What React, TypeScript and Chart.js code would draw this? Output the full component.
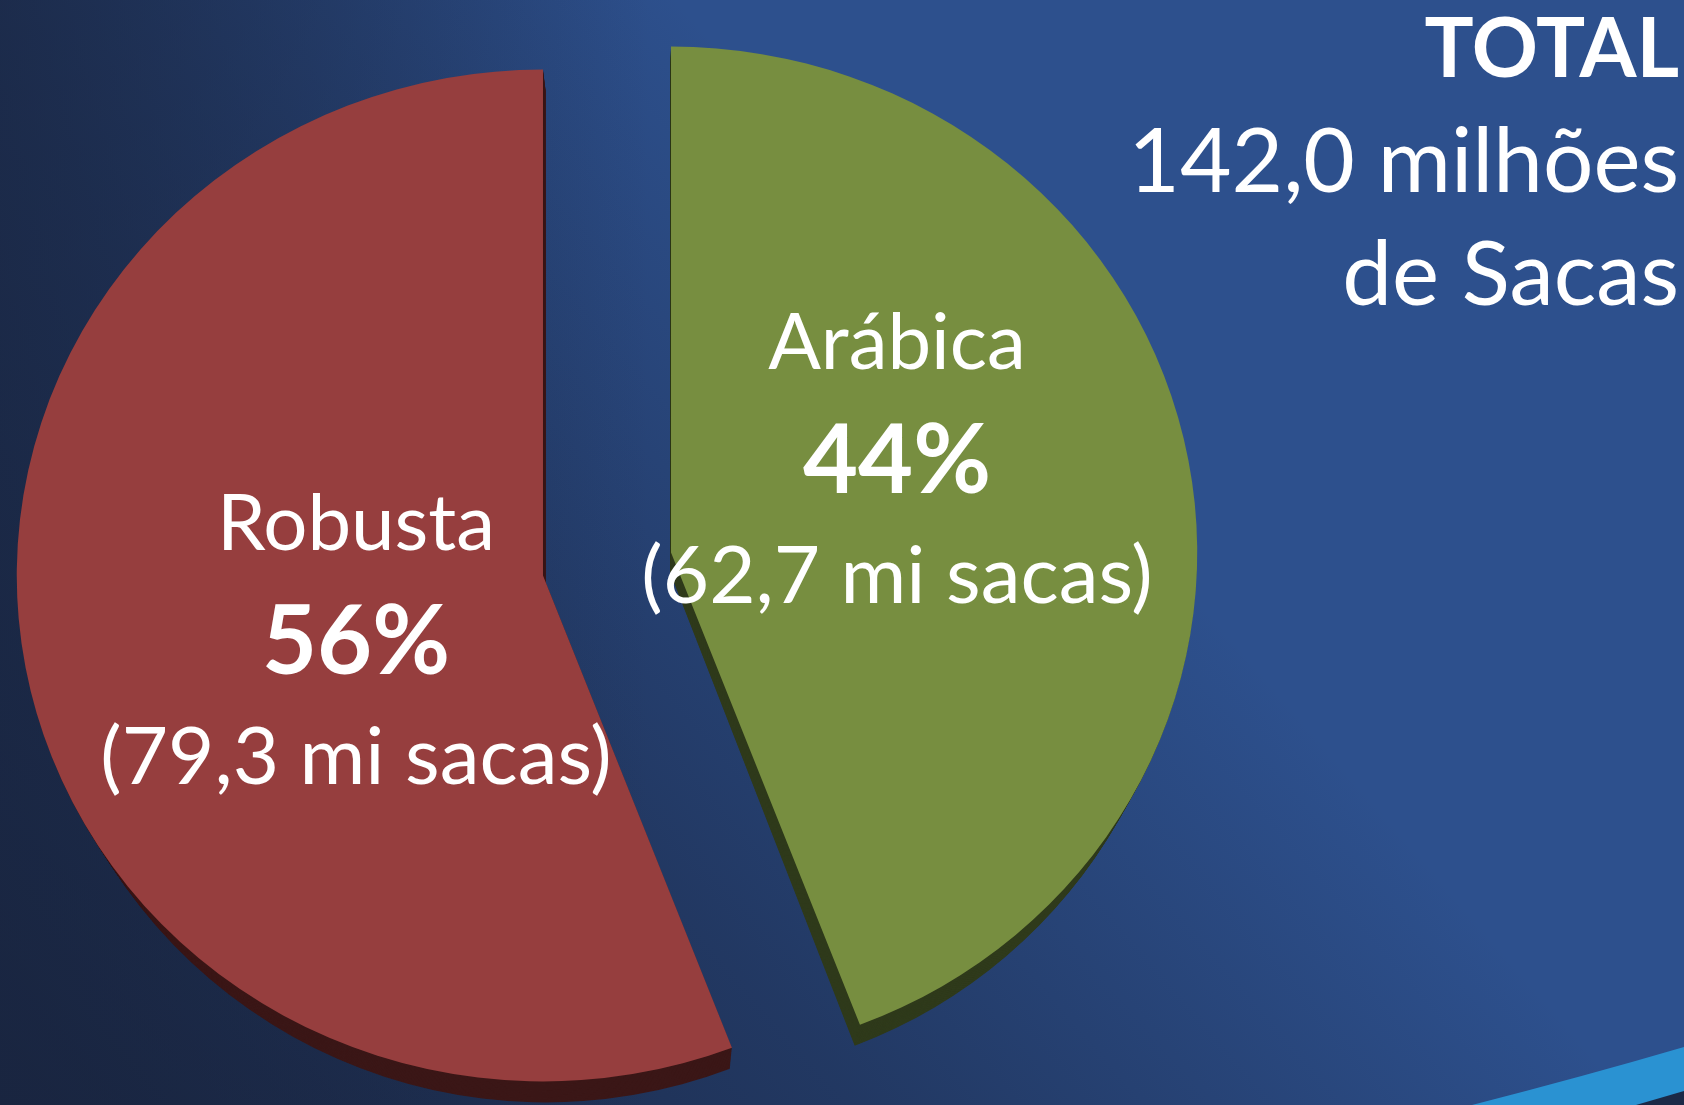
import React, { useEffect, useRef } from 'react';
import { Chart, registerables } from 'chart.js';

Chart.register(...registerables);

// ---- data ----
const categories: string[] = ['Arábica', 'Robusta'];
const volumes: number[] = [62.7, 79.3]; // milhões de sacas
const faceColors: string[] = ['#778e40', '#963e3e'];
const sideColors: string[] = ['#2f3a1b', '#3b1717'];
const totalHeading = 'TOTAL';
const totalUnit = 'milhões';
const totalTail = 'de Sacas';
const sliceUnit = 'mi sacas';

// ---- layout / style ----
const W = 1684;
const H = 1105;
const CENTER_X = 607;
const CENTER_Y = 564;
const RADIUS = 506;
const STRETCH_X = 1.04;
const EXPLODE = 62.6;
const DEPTH = 21;
const DEPTH_SKEW = 0.025;
const DEPTH_X0 = 650;
const FONT = 'Lato, "Open Sans", sans-serif';
const LABEL_SHIFT: number[][] = [
  [226, -60],
  [-187, 99],
];

const fmt = (v: number) => v.toFixed(1).replace('.', ',');

function halfAngle(el: any) {
  return (el.startAngle + el.endAngle) / 2;
}

function sliceTransform(ctx: CanvasRenderingContext2D, el: any) {
  const h = halfAngle(el);
  ctx.translate(Math.cos(h) * EXPLODE * STRETCH_X, Math.sin(h) * EXPLODE);
  ctx.translate(el.x, el.y);
  ctx.scale(STRETCH_X, 1);
  ctx.translate(-el.x, -el.y);
}

function apexOf(el: any) {
  const h = halfAngle(el);
  return { x: el.x + Math.cos(h) * EXPLODE * STRETCH_X, y: el.y + Math.sin(h) * EXPLODE };
}

function paintBackground(ctx: CanvasRenderingContext2D) {
  ctx.save();
  ctx.fillStyle = '#2d508d';
  ctx.fillRect(0, 0, W, H);
  const g = ctx.createLinearGradient(0, H, 1100, 150);
  g.addColorStop(0, 'rgba(25,37,64,1)');
  g.addColorStop(0.45, 'rgba(25,37,64,0.55)');
  g.addColorStop(0.85, 'rgba(25,37,64,0)');
  g.addColorStop(1, 'rgba(25,37,64,0)');
  ctx.fillStyle = g;
  ctx.fillRect(0, 0, W, H);
  const g2 = ctx.createLinearGradient(0, 0, 650, 0);
  g2.addColorStop(0, 'rgba(25,37,64,0.7)');
  g2.addColorStop(1, 'rgba(25,37,64,0)');
  ctx.fillStyle = g2;
  ctx.fillRect(0, 0, 650, H);
  // swoosh bottom right
  ctx.beginPath();
  ctx.moveTo(1472, H);
  ctx.quadraticCurveTo(1585, 1076, W, 1047);
  ctx.lineTo(W, H);
  ctx.closePath();
  ctx.fillStyle = '#2a92d2';
  ctx.fill();
  ctx.beginPath();
  ctx.moveTo(1636, H);
  ctx.quadraticCurveTo(1660, 1098, W, 1091);
  ctx.lineTo(W, H);
  ctx.closePath();
  ctx.fillStyle = '#1b2947';
  ctx.fill();
  ctx.restore();
}

const pieFx = {
  id: 'pieFx',
  beforeDraw(chart: any) {
    paintBackground(chart.ctx);
  },
  beforeDatasetDraw(chart: any, args: any) {
    const ctx: CanvasRenderingContext2D = chart.ctx;
    const els: any[] = args.meta.data;
    const N = 24;
    for (let k = N; k >= 1; k--) {
      const t = k / N;
      els.forEach((el, i) => {
        ctx.save();
        ctx.translate(DEPTH_X0, DEPTH * t);
        ctx.scale(1 - DEPTH_SKEW * t, 1);
        ctx.translate(-DEPTH_X0, 0);
        sliceTransform(ctx, el);
        const fake = Object.create(el);
        fake.options = Object.assign({}, el.options, {
          backgroundColor: sideColors[i],
          borderWidth: 0,
        });
        fake.draw(ctx);
        ctx.restore();
      });
    }
    els.forEach((el) => {
      ctx.save();
      sliceTransform(ctx, el);
      el.draw(ctx);
      ctx.restore();
    });
    return false;
  },
  afterDraw(chart: any) {
    const ctx: CanvasRenderingContext2D = chart.ctx;
    const els: any[] = chart.getDatasetMeta(0).data;
    const total = volumes.reduce((a, b) => a + b, 0);
    ctx.save();
    ctx.fillStyle = '#ffffff';
    ctx.textBaseline = 'alphabetic';
    ctx.textAlign = 'center';
    els.forEach((el, i) => {
      const a = apexOf(el);
      const x = a.x + LABEL_SHIFT[i][0];
      const y = a.y + LABEL_SHIFT[i][1];
      const pct = Math.round((volumes[i] / total) * 100) + '%';
      ctx.font = `400 78px ${FONT}`;
      ctx.fillText(categories[i], x, y - 124);
      ctx.font = `700 95px ${FONT}`;
      ctx.fillText(pct, x, y);
      ctx.font = `400 80px ${FONT}`;
      ctx.fillText(`(${fmt(volumes[i])} ${sliceUnit})`, x, y + 110);
    });
    ctx.textAlign = 'right';
    ctx.font = `700 82px ${FONT}`;
    ctx.fillText(totalHeading, 1679, 77);
    ctx.font = `400 89px ${FONT}`;
    ctx.fillText(`${fmt(total)} ${totalUnit}`, 1679, 192);
    ctx.fillText(totalTail, 1679, 305);
    ctx.restore();
  },
};

export default function App() {
  const ref = useRef<HTMLCanvasElement | null>(null);
  useEffect(() => {
    if (!ref.current) return;
    const chart = new Chart(ref.current, {
      type: 'pie',
      data: {
        labels: categories,
        datasets: [
          {
            data: volumes,
            backgroundColor: faceColors,
            borderWidth: 0,
            offset: 0,
            radius: RADIUS,
          } as any,
        ],
      },
      options: {
        animation: false,
        responsive: false,
        maintainAspectRatio: false,
        devicePixelRatio: 1,
        events: [],
        layout: {
          padding: {
            left: 0,
            right: W - 2 * CENTER_X,
            top: 2 * CENTER_Y - H,
            bottom: 0,
          },
        },
        plugins: {
          legend: { display: false },
          tooltip: { enabled: false },
        },
      } as any,
      plugins: [pieFx],
    });
    return () => chart.destroy();
  }, []);
  return (
    <div
      style={{
        position: 'absolute',
        left: 0,
        top: 0,
        width: W,
        height: H,
        overflow: 'hidden',
      }}
    >
      <canvas ref={ref} width={W} height={H} style={{ display: 'block' }} />
    </div>
  );
}
